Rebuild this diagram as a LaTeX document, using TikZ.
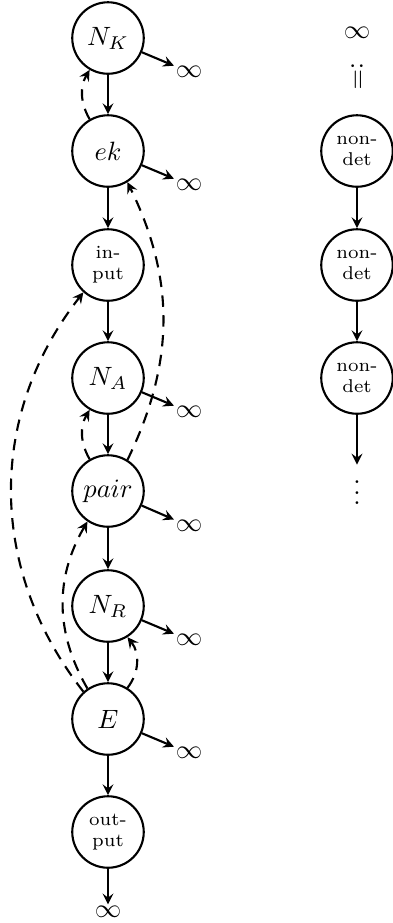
\documentclass[tikz,border=0pt]{standalone}
\usetikzlibrary{arrows.meta}
\begin{document}
\begin{tikzpicture}[x=0.3777pt,y=-0.3777pt,
  st/.style={circle,draw,thick,minimum size=27pt,inner sep=0pt},
  sm/.style={font=\scriptsize,align=center},
  inf/.style={inner sep=0.5pt},
  arr/.style={thick,-stealth},
  darr/.style={thick,dash pattern=on 4.3pt off 3.2pt,-stealth}]
\useasboundingbox (0,0) rectangle (393,923);
% left column
\node[st] (NK) at (108,38) {$N_K$};
\node[st] (ek) at (108,151) {$ek$};
\node[st,sm] (in) at (108,265) {in-\\put};
\node[st] (NA) at (108,378) {$N_A$};
\node[st] (pair) at (108,491) {$pair$};
\node[st] (NR) at (108,606) {$N_R$};
\node[st] (E) at (108,719) {$E$};
\node[st,sm] (out) at (108,832) {out-\\put};
\node[inf] (ib) at (108,912) {$\infty$};
% infinity sinks
\node[inf] (iK) at (189,72) {$\infty$};
\node[inf] (iek) at (189,185) {$\infty$};
\node[inf] (iA) at (189,412) {$\infty$};
\node[inf] (iP) at (189,526) {$\infty$};
\node[inf] (iR) at (189,640) {$\infty$};
\node[inf] (iE) at (189,753) {$\infty$};
% solid arrows
\draw[arr] (NK) -- (ek);
\draw[arr] (ek) -- (in);
\draw[arr] (in) -- (NA);
\draw[arr] (NA) -- (pair);
\draw[arr] (pair) -- (NR);
\draw[arr] (NR) -- (E);
\draw[arr] (E) -- (out);
\draw[arr] (out) -- (ib);
\draw[arr] (NK) -- (iK);
\draw[arr] (ek) -- (iek);
\draw[arr] (NA) -- (iA);
\draw[arr] (pair) -- (iP);
\draw[arr] (NR) -- (iR);
\draw[arr] (E) -- (iE);
% dashed arrows
\draw[darr] (ek.120) to[bend left=30] (NK.240);
\draw[darr] (pair.120) to[bend left=30] (NA.240);
\draw[darr] (pair.58) to[bend right=26] (ek.-58);
\draw[darr] (E.132) to[bend left=38] (in.228);
\draw[darr] (E.124) to[bend left=30] (pair.236);
\draw[darr] (E.58) to[bend right=38] (NR.-58);
% right column
\node[inf] (ir) at (357,33) {$\infty$};
\node (eq) at (357,76) {\rotatebox{-90}{$:=$}};
\node[st,sm] (n1) at (357,151) {non-\\det};
\node[st,sm] (n2) at (357,265) {non-\\det};
\node[st,sm] (n3) at (357,378) {non-\\det};
\node[inner sep=0pt] (vd) at (357,485) {$\vdots$};
\draw[arr] (n1) -- (n2);
\draw[arr] (n2) -- (n3);
\draw[arr] (n3) -- (vd);
\end{tikzpicture}
\end{document}
